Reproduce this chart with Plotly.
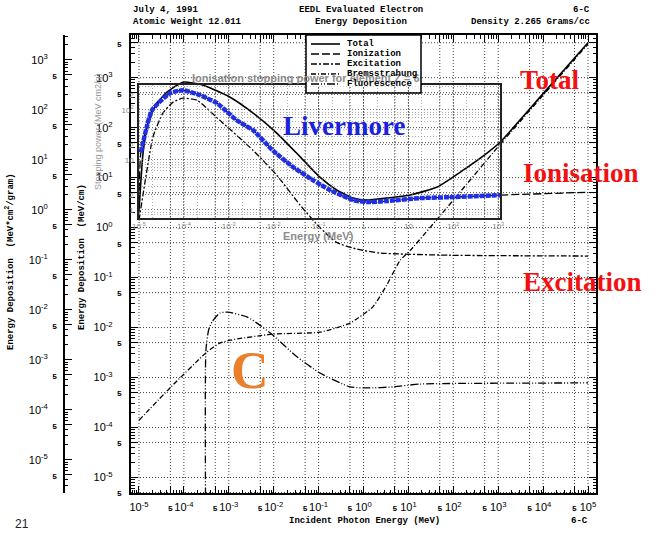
import math
import plotly.graph_objects as go

# ---------------- EEDL electron energy deposition in carbon (MeV, MeV/cm) ----------------
total_E = [1.0e-5, 1.23e-5, 1.58e-5, 2.5e-5, 4.2e-5, 9.5e-5, 2.7e-4, 1.07e-3, 3.5e-3, 1.17e-2,
           3.9e-2, 0.107, 0.257, 0.59, 1.2, 3.3, 11, 44, 166, 562, 1100, 1.0e4, 1.0e5]
total_V = [2.2, 31, 123, 309, 513, 813, 708, 407, 195, 78,
           26, 10.2, 5.6, 3.9, 3.55, 3.9, 4.5, 6.5, 14.1, 31, 51, 480, 5000]

ion_E = [1.0e-5, 1.1e-5, 1.95e-5, 4.9e-5, 9.5e-5, 2.3e-4, 5.5e-4, 1.5e-3, 3.5e-3, 9.5e-3,
         2.7e-2, 7.6e-2, 0.178, 0.59, 1.2, 3.3, 18, 98, 1100, 1.0e5]
ion_V = [2.0, 32, 224, 490, 562, 447, 309, 141, 89, 35,
         16.2, 8.9, 5.6, 3.55, 3.24, 3.39, 3.9, 4.07, 4.47, 5.1]

exc_E = [1.0e-5, 1.5e-5, 2.04e-5, 3.4e-5, 5.75e-5, 9.5e-5, 1.95e-4, 6.3e-4, 3.5e-3, 1.17e-2,
         3.9e-2, 0.107, 0.257, 0.72, 2.3, 85, 1.0e5]
exc_V = [1.4, 14, 65, 195, 324, 389, 355, 141, 35, 11.2,
         2.8, 1.0, 0.5, 0.37, 0.31, 0.28, 0.27]

brem_E = [1.0e-5, 4.9e-5, 3.2e-4, 6.3e-4, 1.07e-3, 9.5e-3, 0.107, 0.5, 1.62, 3.3,
          6.5, 11, 72, 1100, 1.0e5]
brem_V = [1.4e-4, 6.2e-4, 3.2e-3, 4.9e-3, 5.6e-3, 7.4e-3, 8.1e-3, 1.23e-2, 2.6e-2, 7.1e-2,
          0.22, 0.35, 2.5, 46, 4700]

fluo_E = [3.05e-4, 3.09e-4, 3.55e-4, 4.27e-4, 6.3e-4, 9.5e-4, 2.6e-3, 4.9e-3, 9.5e-3, 3.3e-2,
          0.107, 0.5, 1.2, 4.6, 18, 1.0e5]
fluo_V = [1e-6, 3.5e-3, 8.9e-3, 1.32e-2, 1.95e-2, 2.04e-2, 1.62e-2, 1.12e-2, 7.1e-3, 2.6e-3,
          1.23e-3, 6.5e-4, 6.2e-4, 6.5e-4, 7.4e-4, 7.8e-4]

# Geant4 Livermore ionisation stopping power, Z = 6 (MeV, MeV cm2/g)
liv_E = [1.1e-5, 1.95e-5, 4.9e-5, 9.5e-5, 2.3e-4, 5.5e-4, 1.5e-3, 3.5e-3, 9.5e-3, 2.7e-2,
         7.6e-2, 0.178, 0.59, 1.2, 3.3, 18, 98, 1100]
liv_S = [14.1, 99, 216, 248, 197, 136, 62, 39, 15.5, 7.2,
         3.9, 2.5, 1.57, 1.43, 1.50, 1.72, 1.80, 1.97]

DENSITY = 2.265  # g/cm3

# tick exponents
x_decades = list(range(-5, 6))
x_fives = list(range(-5, 5))
y_decades = list(range(-5, 4))
y_fives = list(range(-6, 4))
y3_decades = list(range(-5, 4))
y3_fives = list(range(-6, 3))
inset_x_decades = list(range(-5, 4))
inset_y_vals = [1, 2, 10, 20, 100, 200]
inset_y_text = ["1", "2", "10", "2", "10<sup>2</sup>", "2"]

legend_names = ["Total", "Ionization", "Excitation", "Bremsstrahung", "Fluorescence"]

# ---------------- layout geometry ----------------
W, H = 662, 534
ML, MR, MT, MB = 60, 66, 35, 41
PW, PH = W - ML - MR, H - MT - MB

def px(x):
    return (x - ML) / PW

def py(y):
    return (H - MB - y) / PH

X_RANGE = [-5.178, 5.178]
Y_RANGE = [-5.31, 3.854]
SHIFT = math.log10(DENSITY)
Y3_RANGE = [Y_RANGE[0] - SHIFT, Y_RANGE[1] - SHIFT]
X0_PIX = 131
Y3_PIX = 65

def xlog_at(xp):
    return X_RANGE[0] + (xp - X0_PIX) / (W - MR - X0_PIX) * (X_RANGE[1] - X_RANGE[0])

def ylog_at(yp):
    return Y_RANGE[1] - (yp - MT) / PH * (Y_RANGE[1] - Y_RANGE[0])

INSET = dict(x0=139, x1=500, y0=85, y1=218)
X2_RANGE = [xlog_at(INSET["x0"]), xlog_at(INSET["x1"])]
Y2_RANGE = [ylog_at(INSET["y1"]) - SHIFT, ylog_at(INSET["y0"]) - SHIFT]

MONO = "Liberation Mono"
SERIF = "Liberation Serif"
SANS = "Liberation Sans"
NB = "\u00a0"
FIVE = '<span style="font-family:Liberation Mono;font-size:8px;font-weight:bold">5</span>'

def sup(n):
    return f"10<sup>{n}</sup>"

def log_ticks(decades, fives, pad=""):
    vals = [10.0 ** n for n in decades] + [5 * 10.0 ** n for n in fives]
    text = [sup(n) + pad for n in decades] + [FIVE for _ in fives]
    return vals, text

def minor_vals(lo, hi):
    return [k * 10.0 ** n for n in range(lo, hi + 1) for k in (2, 3, 4, 6, 7, 8, 9)]

xv, xt = log_ticks(x_decades, x_fives)
yv, yt = log_ticks(y_decades, y_fives, NB * 3)
y3v, y3t = log_ticks(y3_decades, y3_fives, NB * 3)

fig = go.Figure()

# dotted grid at every labelled tick (decades and fives), spanning the full axis ranges
x_lo, x_hi = 10 ** X_RANGE[0], 10 ** X_RANGE[1]
y_lo, y_hi = 10 ** Y_RANGE[0], 10 ** Y_RANGE[1]
gx, gy = [], []
for v in xv:
    if x_lo < v < x_hi:
        gx += [v, v, None]
        gy += [y_lo, y_hi, None]
for v in yv:
    if y_lo < v < y_hi:
        gx += [x_lo, x_hi, None]
        gy += [v, v, None]
fig.add_trace(go.Scatter(x=gx, y=gy, mode="lines", xaxis="x", yaxis="y",
                         line=dict(color="rgba(0,0,0,0.75)", width=1, dash="1px,2px"),
                         hoverinfo="skip", showlegend=False))

curves = [
    (total_E, total_V, "solid", 1.6),
    (ion_E, ion_V, "8px,3px", 1.3),
    (exc_E, exc_V, "6px,2px,2px,2px", 1.3),
    (brem_E, brem_V, "5px,2px,1px,2px", 1.3),
    (fluo_E, fluo_V, "8px,2px,1px,2px,1px,2px", 1.3),
]
for xs, ys, dash, w in curves:
    fig.add_trace(go.Scatter(x=xs, y=ys, mode="lines", xaxis="x", yaxis="y",
                             line=dict(color="black", width=w, dash=dash, shape="spline", smoothing=0.5),
                             hoverinfo="skip", showlegend=False))

# per-gram scale: its own narrow subplot whose y axis sits at the far left
fig.add_trace(go.Scatter(x=[1.0], y=[1.0], xaxis="x3", yaxis="y3", mode="markers",
                         marker=dict(opacity=0), hoverinfo="skip", showlegend=False))

# Livermore inset data
fig.add_trace(go.Scatter(x=liv_E, y=liv_S, xaxis="x2", yaxis="y2", mode="lines",
                         line=dict(color="#1f2ee8", width=4.5, dash="5px,1px", shape="spline", smoothing=0.5),
                         hoverinfo="skip", showlegend=False))

frame = dict(type="log", showline=True, linecolor="black", linewidth=2, mirror="allticks",
             ticks="inside", ticklen=7, tickwidth=1.2, tickcolor="black", zeroline=False,
             showgrid=False, tickfont=dict(family=SANS, size=11, color="black"), tickangle=0)
minor_common = dict(ticks="inside", ticklen=3.5, tickcolor="black")

inset_grid = dict(showgrid=True, gridcolor="rgba(90,90,90,0.8)", griddash="1px,2px", gridwidth=1)
inset_tickfont = dict(family=SANS, size=8, color="#8a8a8a")

fig.update_layout(
    width=W, height=H,
    margin=dict(l=ML, r=MR, t=MT, b=MB),
    paper_bgcolor="white", plot_bgcolor="rgba(0,0,0,0)",
    showlegend=False,
    xaxis=dict(**frame, domain=[px(X0_PIX), 1], range=X_RANGE, anchor="y",
               tickvals=xv, ticktext=xt, ticklabelstandoff=3,
               minor=dict(**minor_common, tickvals=minor_vals(-6, 5))),
    yaxis=dict(**frame, domain=[0, 1], range=Y_RANGE, anchor="x",
               tickvals=yv, ticktext=yt, ticklabelstandoff=5,
               minor=dict(**minor_common, tickvals=minor_vals(-6, 3))),
    xaxis3=dict(domain=[px(Y3_PIX), px(Y3_PIX + 2)], anchor="y3", visible=False, range=[0, 2]),
    yaxis3=dict(type="log", domain=[0, 1], anchor="x3", side="left",
                range=Y3_RANGE, showgrid=False, zeroline=False, showline=True, linecolor="black",
                linewidth=1.5, ticks="inside", ticklen=7, tickwidth=1.2, tickcolor="black",
                tickvals=y3v, ticktext=y3t, ticklabelstandoff=4,
                tickfont=dict(family=SANS, size=11, color="black"),
                minor=dict(ticks="inside", ticklen=3.5, tickcolor="black", tickvals=minor_vals(-6, 3))),
    xaxis2=dict(type="log", domain=[px(INSET["x0"]), px(INSET["x1"])], range=X2_RANGE, anchor="y2",
                showline=True, linecolor="#222", linewidth=1.5, mirror=True, ticks="", zeroline=False,
                tickvals=[10.0 ** n for n in inset_x_decades],
                ticktext=["1" if n == 0 else ("10" if n == 1 else sup(n)) for n in inset_x_decades],
                tickfont=inset_tickfont, ticklabelstandoff=0, **inset_grid,
                minor=dict(showgrid=True, gridcolor="rgba(120,120,120,0.6)", griddash="1px,2px",
                           tickvals=[k * 10.0 ** n for n in range(-5, 3) for k in (2, 5)])),
    yaxis2=dict(type="log", domain=[py(INSET["y1"]), py(INSET["y0"])], range=Y2_RANGE, anchor="x2",
                showline=True, linecolor="#222", linewidth=1.5, mirror=True, ticks="", zeroline=False,
                tickvals=inset_y_vals, ticktext=inset_y_text, tickfont=inset_tickfont,
                ticklabelstandoff=2, **inset_grid,
                minor=dict(showgrid=True, gridcolor="rgba(120,120,120,0.6)", griddash="1px,2px",
                           tickvals=minor_vals(-1, 2))),
)

ann = []

def text(x, y, s, size=9, family=MONO, color="black", xanchor="center", angle=0, bold=False):
    ann.append(dict(x=px(x), y=py(y), xref="paper", yref="paper", text=f"<b>{s}</b>" if bold else s,
                    showarrow=False, xanchor=xanchor, yanchor="middle", textangle=angle,
                    font=dict(family=family, size=size, color=color)))

# header and footer
text(131, 10, "July 4, 1991", xanchor="left", bold=True)
text(131, 22, "Atomic Weight 12.011", xanchor="left", bold=True)
text(361, 10, "EEDL Evaluated Electron", bold=True)
text(361, 22, "Energy Deposition", bold=True)
text(592, 10, "6-C", xanchor="right", bold=True)
text(592, 22, "Density 2.265 Grams/cc", xanchor="right", bold=True)
text(364, 521, "Incident Photon Energy (MeV)", bold=True)
text(590, 521, "6-C", xanchor="right", bold=True)
text(22, 524, "21", size=12, family=SANS, color="#222")

# axis titles
text(82, 257, "Energy Deposition  (MeV/cm)", angle=-90, bold=True)
text(10, 262, "Energy Deposition  (MeV*cm<sup>2</sup>/gram)", angle=-90, bold=True)

# inset titles
text(306, 78, "Ionisation stopping power for element Z = 6", size=11, family=SANS, color="#8c8c8c", bold=True)
text(318, 236, "Energy (MeV)", size=11, family=SANS, color="#8c8c8c", bold=True)
text(98, 132, "Stopping power (MeV cm2/g)", size=9, family=SANS, color="#9a9a9a", angle=-90)

# highlighted labels
text(550, 80, "Total", size=27, family=SERIF, color="#f21010", bold=True)
text(581, 173, "Ionisation", size=27, family=SERIF, color="#f21010", bold=True)
text(582, 282, "Excitation", size=27, family=SERIF, color="#f21010", bold=True)
text(344, 126, "Livermore", size=27, family=SERIF, color="#1a22e0", bold=True)
text(250, 370, "C", size=52, family=SERIF, color="#ea7f2c", bold=True)

# legend box
shapes = [
    dict(type="rect", xref="paper", yref="paper", x0=px(306), x1=px(421), y0=py(86.5), y1=py(35),
         line=dict(width=0), fillcolor="white", layer="above"),
    dict(type="rect", xref="paper", yref="paper", x0=px(306), x1=px(421), y0=py(93), y1=py(35),
         line=dict(color="black", width=1.5), fillcolor="rgba(0,0,0,0)", layer="above"),
]
legend_rows = [44, 54, 64, 74, 84]
for (xs, ys, dash, w), name, yrow in zip(curves, legend_names, legend_rows):
    shapes.append(dict(type="line", xref="paper", yref="paper", x0=px(311), x1=px(340),
                       y0=py(yrow), y1=py(yrow), line=dict(color="black", width=w, dash=dash),
                       layer="above"))
    text(345, yrow, name, xanchor="left", bold=True)

fig.update_layout(annotations=ann, shapes=shapes)
fig.write_html("out.html")
